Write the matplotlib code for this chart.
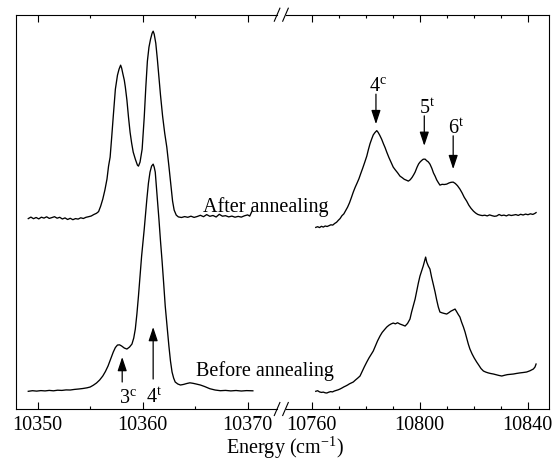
import matplotlib
matplotlib.use("Agg")
import matplotlib.pyplot as plt
from matplotlib.lines import Line2D
from matplotlib.ticker import MultipleLocator

plt.rcParams["font.family"] = ["Liberation Serif", "DejaVu Serif"]
plt.rcParams["mathtext.fontset"] = "custom"
plt.rcParams["mathtext.rm"] = "Liberation Serif"
plt.rcParams["mathtext.it"] = "Liberation Serif:italic"
plt.rcParams["mathtext.bf"] = "Liberation Serif:bold"

# ---- spectra: low-energy window (cm^-1, arb. intensity) ----
after_lo_E = [
    10349.10, 10349.35, 10349.60, 10349.85, 10350.10, 10350.35, 10350.60, 10350.85,
    10351.10, 10351.35, 10351.60, 10351.85, 10352.10, 10352.35, 10352.60, 10352.85,
    10353.10, 10353.35, 10353.60, 10353.85, 10354.10, 10354.35, 10354.60, 10354.85,
    10355.10, 10355.35, 10355.60, 10355.80, 10356.00, 10356.20, 10356.40, 10356.60,
    10356.75, 10356.90, 10357.05, 10357.20, 10357.40, 10357.60, 10357.75, 10357.90,
    10358.00, 10358.10, 10358.25, 10358.35, 10358.50, 10358.65, 10358.80, 10358.95,
    10359.10, 10359.30, 10359.50, 10359.60, 10359.75, 10359.95, 10360.15, 10360.30,
    10360.45, 10360.60, 10360.75, 10360.90, 10361.00, 10361.10, 10361.25, 10361.40,
    10361.55, 10361.70, 10361.90, 10362.10, 10362.30, 10362.50, 10362.70, 10362.85,
    10363.00, 10363.20, 10363.40, 10363.70, 10364.00, 10364.30, 10364.60, 10364.90,
    10365.20, 10365.50, 10365.80, 10366.10, 10366.40, 10366.70, 10367.00, 10367.30,
    10367.60, 10367.90, 10368.20, 10368.50, 10368.80, 10369.10, 10369.40, 10369.70,
    10370.00, 10370.20, 10370.40,
]
after_lo_I = [
    190.5, 192.0, 190.4, 191.6, 190.2, 191.9, 191.0, 192.3,
    190.7, 191.5, 192.4, 190.9, 191.8, 190.1, 191.2, 189.6,
    190.8, 189.4, 190.5, 190.0, 191.3, 190.6, 191.8, 192.4,
    193.1, 194.6, 195.8, 197.5, 203.0, 210.0, 219.0, 230.0,
    243.0, 252.0, 272.0, 293.0, 320.0, 334.0, 340.0, 344.0,
    341.0, 336.0, 329.0, 322.0, 309.0, 292.0, 277.0, 266.0,
    257.0, 250.0, 244.0, 243.0, 247.0, 260.0, 292.0, 322.0,
    348.0, 362.0, 370.0, 376.0, 378.0, 375.0, 366.0, 350.0,
    332.0, 314.0, 293.0, 276.0, 262.0, 243.0, 223.0, 208.0,
    199.0, 194.0, 192.2, 191.6, 192.5, 191.8, 192.9, 191.7,
    192.6, 193.8, 192.4, 194.5, 192.8, 193.6, 192.1, 194.8,
    192.9, 193.4, 192.2, 193.0, 191.9, 192.7, 192.0, 193.3,
    194.2, 193.0, 197.5,
]

before_lo_E = [
    10349.10, 10349.50, 10349.90, 10350.30, 10350.70, 10351.10, 10351.50, 10351.90,
    10352.30, 10352.70, 10353.10, 10353.50, 10353.90, 10354.30, 10354.70, 10355.00,
    10355.30, 10355.60, 10355.90, 10356.20, 10356.45, 10356.70, 10356.95, 10357.20,
    10357.40, 10357.60, 10357.80, 10358.00, 10358.25, 10358.50, 10358.75, 10358.98,
    10359.15, 10359.30, 10359.45, 10359.60, 10359.75, 10359.90, 10360.15, 10360.40,
    10360.55, 10360.70, 10360.85, 10361.00, 10361.10, 10361.20, 10361.40, 10361.55,
    10361.70, 10361.85, 10362.00, 10362.15, 10362.35, 10362.50, 10362.65, 10362.80,
    10362.95, 10363.10, 10363.35, 10363.60, 10363.90, 10364.20, 10364.50, 10364.80,
    10365.10, 10365.50, 10365.90, 10366.40, 10366.90, 10367.40, 10367.90, 10368.40,
    10368.90, 10369.40, 10369.90, 10370.50,
]
before_lo_I = [
    17.7, 18.3, 17.9, 18.4, 18.1, 18.6, 18.2, 18.8,
    18.6, 19.1, 19.0, 19.6, 20.0, 20.5, 21.2, 22.0,
    23.8, 26.0, 29.0, 33.0, 37.5, 43.0, 50.0, 57.0,
    61.5, 64.0, 64.2, 63.0, 61.0, 60.0, 62.0, 65.0,
    71.0, 80.0, 95.0, 113.0, 133.0, 153.0, 180.0, 210.0,
    226.0, 237.0, 243.0, 245.0, 242.0, 237.0, 210.0, 190.0,
    168.0, 148.0, 126.0, 103.0, 80.0, 63.0, 48.0, 37.0,
    31.0, 27.0, 25.0, 24.0, 24.6, 25.5, 26.2, 25.7,
    25.0, 24.0, 22.5, 20.3, 19.0, 18.3, 18.6, 18.1,
    18.5, 18.0, 18.4, 18.2,
]

# ---- spectra: high-energy window ----
after_hi_E = [
    10761.5, 10762.2, 10762.9, 10763.6, 10764.3, 10765.0, 10765.7, 10766.4,
    10767.1, 10767.8, 10768.5, 10769.2, 10769.9, 10770.5, 10771.2, 10771.9,
    10772.6, 10773.3, 10774.0, 10774.7, 10775.4, 10776.1, 10776.8, 10777.5,
    10778.2, 10778.9, 10779.6, 10780.4, 10781.0, 10781.6, 10782.2, 10782.8,
    10783.4, 10784.1, 10784.6, 10785.2, 10785.9, 10786.6, 10787.2, 10787.8,
    10788.6, 10789.4, 10790.2, 10791.0, 10791.8, 10792.7, 10793.5, 10794.3,
    10795.1, 10795.8, 10796.5, 10797.2, 10797.8, 10798.3, 10799.0, 10799.6,
    10800.1, 10800.7, 10801.3, 10802.0, 10802.6, 10803.2, 10803.8, 10804.5,
    10805.1, 10805.7, 10806.3, 10806.9, 10807.5, 10808.3, 10809.1, 10810.0,
    10810.8, 10811.6, 10812.4, 10813.2, 10814.0, 10814.9, 10815.7, 10816.5,
    10817.4, 10818.2, 10819.0, 10819.9, 10820.7, 10821.5, 10822.3, 10823.2,
    10824.1, 10825.0, 10825.9, 10826.8, 10827.7, 10828.5, 10829.4, 10830.3,
    10831.2, 10832.1, 10833.0, 10833.9, 10834.7, 10835.6, 10836.5, 10837.4,
    10838.3, 10839.2, 10840.1, 10841.0, 10841.9, 10842.6, 10843.1,
]
after_hi_I = [
    181.7, 182.4, 181.5, 182.8, 182.0, 183.1, 182.6, 183.4,
    184.3, 184.0, 185.6, 186.8, 188.9, 190.5, 193.4, 195.2,
    198.6, 202.0, 206.3, 211.5, 217.0, 221.8, 226.0, 230.4,
    235.8, 241.0, 246.5, 253.0, 259.5, 265.4, 270.0, 274.2,
    276.5, 278.5, 276.8, 273.9, 270.0, 265.2, 261.4, 257.0,
    251.6, 246.8, 242.0, 239.1, 236.4, 233.0, 231.5, 229.8,
    228.9, 228.0, 229.4, 231.8, 234.5, 237.0, 241.8, 245.2,
    247.0, 248.6, 249.9, 250.0, 248.4, 247.2, 245.0, 240.8,
    236.2, 233.0, 229.2, 226.5, 224.0, 224.8, 224.6, 225.0,
    226.1, 226.8, 227.0, 225.6, 223.4, 220.0, 216.2, 211.8,
    208.0, 203.9, 200.8, 198.0, 196.1, 194.7, 194.0, 193.5,
    193.9, 193.2, 194.2, 193.4, 192.8, 193.1, 194.6, 193.5,
    194.0, 193.2, 194.3, 193.6, 194.0, 194.5, 193.7, 194.8,
    194.1, 195.0, 194.4, 195.3, 194.7, 195.6, 196.5,
]

before_hi_E = [
    10761.5, 10762.2, 10762.9, 10763.6, 10764.3, 10765.0, 10765.6, 10766.3,
    10767.0, 10767.7, 10768.4, 10769.1, 10769.8, 10770.5, 10771.2, 10771.9,
    10772.6, 10773.3, 10774.0, 10774.7, 10775.4, 10776.2, 10777.0, 10777.9,
    10778.7, 10779.5, 10780.4, 10781.2, 10782.0, 10782.8, 10783.6, 10784.4,
    10785.3, 10786.1, 10787.0, 10787.8, 10788.6, 10789.4, 10790.2, 10791.0,
    10791.8, 10792.7, 10793.6, 10794.6, 10795.5, 10796.4, 10797.0, 10797.7,
    10798.3, 10798.9, 10799.5, 10800.1, 10800.7, 10801.3, 10801.8, 10802.2,
    10802.6, 10803.2, 10803.8, 10804.4, 10805.1, 10805.7, 10806.3, 10806.9,
    10807.5, 10808.3, 10809.1, 10810.0, 10810.8, 10811.5, 10812.3, 10813.1,
    10813.7, 10814.3, 10814.9, 10815.5, 10816.2, 10816.8, 10817.4, 10818.0,
    10818.6, 10819.4, 10820.2, 10821.1, 10821.9, 10822.7, 10823.6, 10824.5,
    10825.4, 10826.3, 10827.3, 10828.3, 10829.3, 10830.4, 10831.5, 10832.5,
    10833.6, 10834.7, 10835.9, 10837.1, 10838.3, 10839.6, 10840.8, 10842.1,
    10842.7, 10843.1,
]
before_hi_I = [
    17.7, 18.3, 17.1, 16.6, 16.9, 16.2, 16.0, 16.8,
    17.4, 17.1, 18.0, 18.6, 19.2, 20.0, 21.0, 22.1,
    23.0, 24.0, 25.2, 26.1, 27.0, 29.0, 30.8, 33.0,
    37.6, 42.2, 47.0, 51.0, 54.5, 58.0, 63.1, 68.2,
    73.0, 76.6, 79.5, 82.0, 83.8, 85.1, 86.0, 85.2,
    86.3, 85.0, 84.1, 83.0, 85.6, 90.0, 97.0, 104.0,
    110.0, 118.0, 126.0, 133.0, 138.0, 143.0, 148.0, 152.0,
    147.0, 143.0, 140.0, 132.0, 124.0, 117.0, 109.0, 102.0,
    97.0, 96.2, 95.6, 95.0, 96.4, 97.8, 98.9, 100.0,
    97.3, 94.5, 92.0, 87.0, 82.0, 77.0, 71.0, 65.0,
    60.0, 55.1, 51.0, 47.0, 43.8, 40.5, 38.0, 36.9,
    36.1, 35.5, 35.0, 34.3, 33.6, 33.0, 33.8, 34.4,
    34.7, 35.0, 35.6, 36.1, 36.5, 37.0, 38.2, 40.0,
    42.0, 45.0,
]

# ---- band assignments: (number, label, position, label y, arrow tail y, arrow head y) ----
lo_bands = [("3", "c", 10358.05, 7.0, 27.0, 52.0),
            ("4", "t", 10361.00, 7.0, 30.0, 82.0)]
lo_label_x = [10358.65, 10361.05]
hi_bands = [("4", "c", 10783.8, 319.3, 315.0, 285.0),
            ("5", "t", 10801.7, 296.0, 293.3, 263.3),
            ("6", "t", 10812.4, 276.7, 273.3, 240.0)]
hi_label_x = [10784.4, 10802.8, 10813.4]

lo_xlim = (10347.96, 10372.80)
hi_xlim = (10750.3, 10848.0)
ylim = (0, 394.5)

W, H = 554, 460
fig = plt.figure(figsize=(W / 100, H / 100), dpi=100)
ax_r = fig.add_axes([285.5 / W, 50 / H, (549.3 - 285.5) / W, 394.3 / H])
ax_l = fig.add_axes([16.3 / W, 50 / H, (277 - 16.3) / W, 394.3 / H])
ax_l.patch.set_visible(False)
ax_r.patch.set_visible(False)

FS = 14.5
LW = 0.95

ax_l.plot(after_lo_E, after_lo_I, color="black", lw=LW)
ax_l.plot(before_lo_E, before_lo_I, color="black", lw=LW)
ax_r.plot(after_hi_E, after_hi_I, color="black", lw=LW)
ax_r.plot(before_hi_E, before_hi_I, color="black", lw=LW)

for ax, xl in ((ax_l, lo_xlim), (ax_r, hi_xlim)):
    ax.set_xlim(*xl)
    ax.set_ylim(*ylim)
    ax.set_yticks([])
    ax.tick_params(axis="x", which="both", direction="in", top=True, bottom=True,
                   labelsize=FS, pad=4, width=0.8)
    ax.tick_params(axis="x", which="major", length=5)
    ax.tick_params(axis="x", which="minor", length=2.5)
    for s in ax.spines.values():
        s.set_linewidth(0.8)

ax_l.spines["right"].set_visible(False)
ax_r.spines["left"].set_visible(False)
ax_l.xaxis.set_major_locator(MultipleLocator(10))
ax_l.xaxis.set_minor_locator(MultipleLocator(5))
ax_r.xaxis.set_major_locator(MultipleLocator(40))
ax_r.xaxis.set_minor_locator(MultipleLocator(10))

arrow_kw = dict(arrowstyle="-|>,head_length=0.6,head_width=0.2", color="black",
                lw=0.9, shrinkA=0, shrinkB=0, mutation_scale=14)

for (num, sup, x, ly, ty, hy), lx in zip(lo_bands, lo_label_x):
    ax_l.annotate("", xy=(x, hy), xytext=(x, ty), arrowprops=arrow_kw)
    ax_l.text(lx, ly, num + r"$^{\mathrm{" + sup + "}}$", ha="center",
              va="baseline", fontsize=FS)

for (num, sup, x, ly, ty, hy), lx in zip(hi_bands, hi_label_x):
    ax_r.annotate("", xy=(x, hy), xytext=(x, ty), arrowprops=arrow_kw)
    ax_r.text(lx, ly, num + r"$^{\mathrm{" + sup + "}}$", ha="center",
              va="baseline", fontsize=FS)

ax_l.text(10365.74, 198.3, "After annealing", ha="left", va="baseline",
          fontsize=FS, clip_on=False, zorder=5)
ax_l.text(10365.08, 34.3, "Before annealing", ha="left", va="baseline",
          fontsize=FS, clip_on=False, zorder=5)

fig.text(285 / W, (H - 454.0) / H, r"Energy (cm$^{-1}$)", ha="center",
         va="baseline", fontsize=FS)

# axis-break marks on the top and bottom frame lines
for ybase in (15.7, 410.0):
    for x0 in (274.3, 282.7):
        fig.add_artist(Line2D([x0 / W, (x0 + 5.6) / W],
                              [(H - (ybase + 6.5)) / H, (H - (ybase - 6.5)) / H],
                              transform=fig.transFigure, color="black", lw=0.8))

fig.savefig("out.png", dpi=100)
